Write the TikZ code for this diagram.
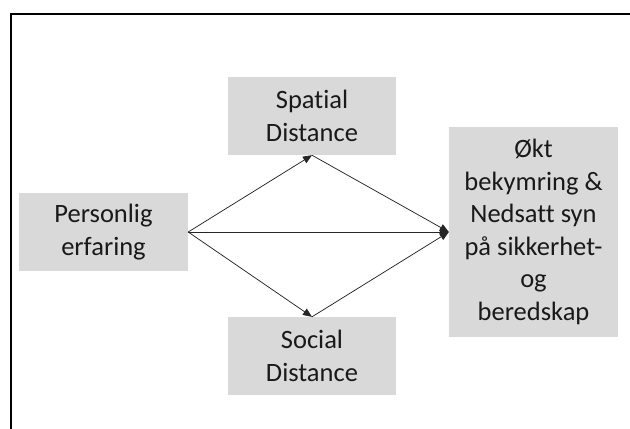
\documentclass[tikz,border=0pt]{standalone}
\usepackage{fontspec}
\setmainfont{Carlito}[Ligatures=NoCommon]
\usetikzlibrary{arrows.meta}
\begin{document}
\begin{tikzpicture}[x=1bp,y=-1bp,
  box/.style={fill=boxgray, draw=none, inner sep=0pt, align=center,
    font=\fontsize{26.5bp}{32.5bp}\selectfont, text=black!90},
  conn/.style={draw=black!85, line width=0.75bp, -{Triangle[length=9bp,width=7.5bp]}}]
\definecolor{boxgray}{HTML}{D9D9D9}
\useasboundingbox (0,0) rectangle (630,428);
\draw[line width=1.3bp] (11,430) -- (11,14) -- (632,14);
\node[box, minimum width=169bp, minimum height=78bp] (pers) at (103.5,232) {Personlig\\erfaring};
\node[box, minimum width=168bp, minimum height=78bp] (spat) at (312,116) {Spatial\\Distance};
\node[box, minimum width=168bp, minimum height=78bp] (soc) at (312,356) {Social\\Distance};
\node[box, minimum width=169bp, minimum height=210bp] (out) at (533.5,232) {Økt\\bekymring \&\\Nedsatt syn\\på sikkerhet-\\og\\beredskap};
\draw[conn] (pers.east) -- (spat.south);
\draw[conn] (pers.east) -- (soc.north);
\draw[conn] (pers.east) -- (out.west);
\draw[conn] (spat.south) -- (out.west);
\draw[conn] (soc.north) -- (out.west);
\end{tikzpicture}
\end{document}
